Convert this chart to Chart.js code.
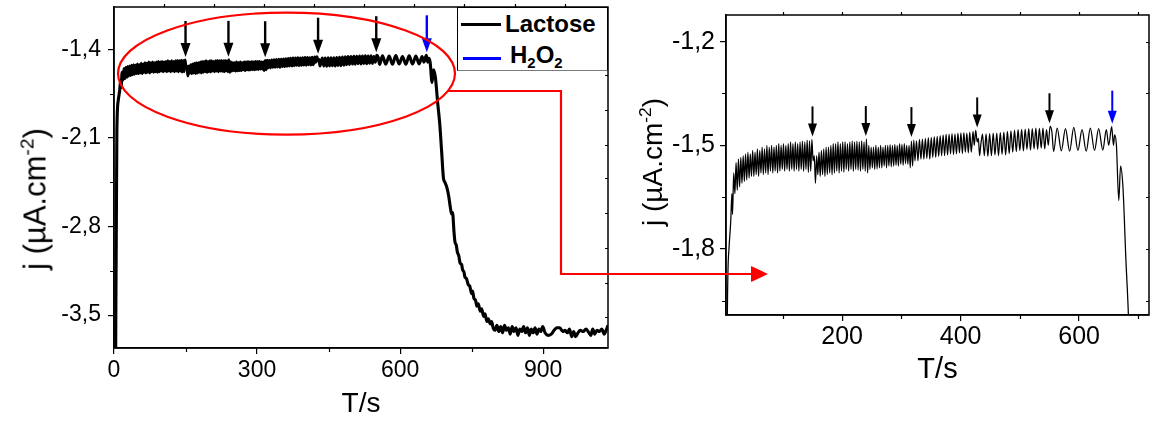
<!DOCTYPE html>
<html><head><meta charset="utf-8">
<script src="https://cdn.jsdelivr.net/npm/chart.js@4.4.1/dist/chart.umd.min.js"></script>
<style>
html,body{margin:0;padding:0;background:#fff;}
body{width:1152px;height:421px;position:relative;overflow:hidden;font-family:"Liberation Sans",Arial,sans-serif;color:#000;}
#leftBox{position:absolute;left:0;top:0;width:620px;height:421px;}
#rightBox{position:absolute;left:620px;top:0;width:532px;height:421px;}
.ytitle{position:absolute;white-space:nowrap;transform:translate(-50%,-50%) rotate(-90deg);line-height:1;}
.ytitle sup{font-size:62%;vertical-align:0;position:relative;top:-0.62em;line-height:0;}
#legend{position:absolute;left:457px;top:7px;width:151px;height:64px;background:#fff;border:1px solid #000;border-bottom-color:#7a7a7a;box-sizing:border-box;}
.lgline{position:absolute;height:3px;}
.lgtext{position:absolute;font-weight:bold;font-size:24px;line-height:24px;white-space:nowrap;}
.lgtext sub{font-size:62%;vertical-align:0;position:relative;top:0.35em;line-height:0;}
#overlay{position:absolute;left:0;top:0;pointer-events:none;}
</style>
</head><body>
<div id="leftBox"><canvas id="cL" width="620" height="421"></canvas></div>
<div id="rightBox"><canvas id="cR" width="532" height="421"></canvas></div>
<div class="ytitle" style="left:35px;top:199px;font-size:31px;">j (µA.cm<sup>-2</sup>)</div>
<div class="ytitle" style="left:653px;top:162px;font-size:28px;">j (µA.cm<sup>-2</sup>)</div>
<div id="legend">
  <div class="lgline" style="left:3px;top:15px;width:40px;background:#000;"></div>
  <div class="lgtext" style="left:47px;top:4px;">Lactose</div>
  <div class="lgline" style="left:5px;top:49px;width:38px;background:#0000ff;"></div>
  <div class="lgtext" style="left:52px;top:35px;">H<sub>2</sub>O<sub>2</sub></div>
</div>
<svg id="overlay" width="1152" height="421" viewBox="0 0 1152 421">
  <ellipse cx="286.5" cy="73.6" rx="168.5" ry="61" fill="none" stroke="#ff0000" stroke-width="2.2"/>
  <polyline points="448,91 561,91 561,274 753,274" fill="none" stroke="#ff0000" stroke-width="2.2"/>
  <polygon points="751,266 768,274 751,282" fill="#ff0000"/>
</svg>
<script>
// ---------- data (T in s, j in µA.cm-2) ----------
const beforeAdditions = [[3,-4.20],[6,-2.05],[9,-1.80],[12,-1.72],[14,-1.64],[15,-1.70],
 [17,-1.58],[19,-1.64],[21,-1.55],[23,-1.63],[25,-1.54],[27,-1.62],[29,-1.535],[31,-1.61],[33,-1.53],[35,-1.605],
 [37,-1.525],[39,-1.60],[41,-1.52],[43,-1.595],[45,-1.525],[47,-1.59],[49,-1.515],[51,-1.59],[53,-1.52],[55,-1.585],
 [57,-1.51],[59,-1.59],[61,-1.515],[63,-1.58],[65,-1.505],[67,-1.585],[69,-1.51],[71,-1.58],[73,-1.50],[75,-1.585],
 [77,-1.505],[79,-1.575],[81,-1.50],[83,-1.58],[85,-1.505],[87,-1.575],[89,-1.50],[91,-1.58],[93,-1.495],[95,-1.575],
 [97,-1.50],[99,-1.57],[101,-1.495],[103,-1.575],[105,-1.50],[107,-1.57],[109,-1.495],[111,-1.575],[113,-1.49],[115,-1.57],
 [117,-1.495],[119,-1.575],[121,-1.49],[123,-1.57],[125,-1.495],[127,-1.575],[129,-1.49],[131,-1.57],[133,-1.488],[135,-1.575],
 [137,-1.49],[139,-1.57],[141,-1.485],[143,-1.578],[145,-1.487],[147,-1.575],[149,-1.483]];
const afterAddition1 = [[151,-1.545],[153,-1.53],[155,-1.61],[157,-1.53],[159,-1.585],[161,-1.52],[163,-1.59],[165,-1.515],
 [167,-1.585],[169,-1.51],[171,-1.59],[173,-1.505],[175,-1.585],[177,-1.505],[179,-1.58],[181,-1.50],[183,-1.585],[185,-1.495],
 [187,-1.58],[189,-1.495],[191,-1.575],[193,-1.49],[195,-1.58],[197,-1.495],[199,-1.575],[201,-1.49],[203,-1.578],[205,-1.49],
 [207,-1.57],[209,-1.495],[211,-1.575],[213,-1.49],[215,-1.57],[217,-1.488],[219,-1.575],[221,-1.49],[223,-1.57],[225,-1.488],
 [227,-1.572],[229,-1.49],[231,-1.575],[233,-1.487],[235,-1.57],[237,-1.49],[239,-1.575]];
const afterAddition2 = [[241,-1.482],[243,-1.58],[245,-1.50],[247,-1.57],[249,-1.505],[251,-1.565],[253,-1.505],[255,-1.57],
 [257,-1.50],[259,-1.568],[261,-1.505],[263,-1.565],[265,-1.50],[267,-1.565],[269,-1.505],[271,-1.56],[273,-1.50],[275,-1.565],
 [277,-1.50],[279,-1.56],[281,-1.498],[283,-1.562],[285,-1.50],[287,-1.56],[289,-1.497],[291,-1.558],[293,-1.50],[295,-1.56],
 [297,-1.495],[299,-1.555],[301,-1.497],[303,-1.558],[305,-1.495],[307,-1.553],[309,-1.50],[311,-1.555],[313,-1.50],[315,-1.565]];
const afterAddition3 = [[317,-1.488],[319,-1.56],[321,-1.485],[323,-1.545],[325.5,-1.487],[328,-1.545],[330.5,-1.483],[333,-1.54],
 [335.5,-1.482],[338,-1.54],[340.5,-1.48],[343,-1.538],[345.5,-1.478],[348,-1.54],[350.5,-1.477],[353,-1.535],[355.5,-1.475],
 [358,-1.535],[360.5,-1.474],[363,-1.532],[365.5,-1.472],[368,-1.53],[370.5,-1.47],[373,-1.53],[375.5,-1.468],[378,-1.528],
 [380.5,-1.468],[383,-1.525],[385.5,-1.466],[388,-1.527],[390.5,-1.467],[393,-1.525],[395.5,-1.465],[398,-1.522],[400.5,-1.464],
 [403,-1.524],[405.5,-1.463],[408,-1.52],[410.5,-1.465],[413,-1.522],[415.5,-1.462],[418,-1.52],[421,-1.46],[423,-1.50]];
const afterAddition4 = [[425.5,-1.457],[428,-1.49],[430,-1.48],[432,-1.53],[434,-1.50],[437,-1.468],[440,-1.53],[443,-1.467],
 [446,-1.532],[449,-1.466],[452,-1.53],[455,-1.465],[458,-1.528],[461,-1.465],[464,-1.53],[467,-1.463],[470,-1.526],[473,-1.462],
 [476,-1.528],[479,-1.46],[482,-1.524],[485,-1.458],[488,-1.52],[491,-1.456],[494,-1.518],[497,-1.455],[500,-1.515],[503,-1.454],
 [506,-1.516],[509,-1.453],[512,-1.512],[515,-1.452],[518,-1.514],[521,-1.452],[524,-1.51],[527,-1.45],[530,-1.512],[533,-1.451],
 [536,-1.508],[539,-1.45],[542,-1.51],[545,-1.455],[548,-1.50]];
const afterAddition5 = [[551,-1.445],[554,-1.46],[557,-1.518],[563,-1.45],[570,-1.516],[577,-1.452],[584,-1.517],[591,-1.448],
 [598,-1.515],[605,-1.455],[612,-1.517],[619,-1.45],[626,-1.515],[633,-1.452],[640,-1.514],[646,-1.455],[650,-1.50],[655,-1.446]];
const afterH2O2 = [[658,-1.50],[660,-1.47],[663,-1.50],[667,-1.66],[670,-1.56],[674,-1.62],[679,-1.83],[683,-1.98],[687,-2.20],
 [691,-2.42],[694,-2.45],[698,-2.49],[702,-2.56],[705,-2.64],[708,-2.70],[710,-2.69],[713,-2.84],[715,-2.92],[718,-2.95],
 [720,-3.00],[723,-3.03],[726,-3.09],[729,-3.10],[731,-3.14],[734,-3.16],[736,-3.20],[739,-3.21],[743,-3.26],[746,-3.27],
 [750,-3.33],[752,-3.31],[755,-3.37],[758,-3.38],[761,-3.43],[764,-3.41],[768,-3.47],[771,-3.45],[775,-3.51],[778,-3.49],
 [782,-3.55],[785,-3.53],[789,-3.57],[792,-3.55],[795,-3.60],[799,-3.62],[803,-3.58],[807,-3.63],[811,-3.59],[815,-3.64],
 [819,-3.58],[823,-3.62],[827,-3.60],[831,-3.65],[835,-3.59],[839,-3.63],[843,-3.60],[847,-3.66],[851,-3.61],[855,-3.63],
 [859,-3.59],[863,-3.64],[867,-3.60],[871,-3.66],[875,-3.61],[879,-3.64],[883,-3.60],[887,-3.65],[891,-3.61],[895,-3.63],
 [899,-3.59],[904,-3.64],[910,-3.66],[917,-3.65],[923,-3.62],[929,-3.60],[935,-3.60],[941,-3.63],[946,-3.62],[951,-3.64],
 [955,-3.61],[960,-3.67],[964,-3.63],[968,-3.67],[973,-3.64],[978,-3.62],[984,-3.63],[990,-3.61],[996,-3.64],[1000,-3.66],
 [1004,-3.61],[1008,-3.65],[1013,-3.62],[1018,-3.63],[1023,-3.61],[1028,-3.65],[1032,-3.62],[1036,-3.58]];

const lactoseAdditionTimes = [150, 240, 317, 428, 550];
const h2o2AdditionTime = 656;

// tick labels / axis ranges
const leftXTicks = [0, 300, 600, 900];
const leftXMinor = [150, 450, 750];
const leftXRange = [0, 1036];
const leftYTicks = [-1.4, -2.1, -2.8, -3.5];
const leftYMinor = [-1.75, -2.45, -3.15];
const leftYRange = [-3.76, -1.064];
const rightXTicks = [200, 400, 600];
const rightXMinor = [100, 300, 500, 700];
const rightXRange = [4, 718];
const rightYTicks = [-1.2, -1.5, -1.8];
const rightYMinor = [-1.35, -1.65, -1.95];
const rightYRange = [-1.991, -1.123];
const leftTopMirror = [105, 210, 315, 420, 525, 630, 735, 840, 945];
const leftRightMirror = [-1.60, -1.878, -2.155, -2.415, -2.692, -2.968, -3.245, -3.513];
const rightTopMirror = [100, 200, 300, 400, 500, 600, 700];
const rightRightMirror = [-1.2, -1.35, -1.5, -1.65, -1.8, -1.95];

// ---------- chart building ----------
const FONT = "'Liberation Sans', Arial, sans-serif";
const allData = [].concat(beforeAdditions, afterAddition1, afterAddition2, afterAddition3, afterAddition4, afterAddition5, afterH2O2);
const toXY = a => a.map(p => ({x: p[0], y: p[1]}));
function peakNear(t) {
  let m = -Infinity;
  allData.forEach(p => { if (Math.abs(p[0] - t) <= 4 && p[1] > m) m = p[1]; });
  return m;
}
const fmtDec = v => v.toFixed(1).replace('.', ',');

function drawArrow(ctx, px, tipY, len, color, shaftW, headW, headH) {
  ctx.strokeStyle = color; ctx.fillStyle = color; ctx.lineWidth = shaftW;
  ctx.beginPath(); ctx.moveTo(px, tipY - len); ctx.lineTo(px, tipY - headH + 1); ctx.stroke();
  ctx.beginPath(); ctx.moveTo(px - headW / 2, tipY - headH); ctx.lineTo(px + headW / 2, tipY - headH);
  ctx.lineTo(px, tipY); ctx.closePath(); ctx.fill();
}

const decorPlugin = {
  id: 'decor',
  afterDatasetsDraw(chart, args, o) {
    const {ctx, chartArea: a, scales: {x, y}} = chart;
    ctx.save();
    ctx.strokeStyle = '#000';
    ctx.lineWidth = 1.5;
    ctx.strokeRect(a.left, a.top, a.right - a.left, a.bottom - a.top);
    ctx.lineWidth = 1.2;
    ctx.beginPath();
    o.xMinor.forEach(v => { const p = Math.round(x.getPixelForValue(v)) + 0.5; ctx.moveTo(p, a.bottom); ctx.lineTo(p, a.bottom + o.minorLen); });
    o.yMinor.forEach(v => { const p = Math.round(y.getPixelForValue(v)) + 0.5; ctx.moveTo(a.left, p); ctx.lineTo(a.left - o.minorLen, p); });
    o.xTop.forEach(v => { const p = Math.round(x.getPixelForValue(v)) + 0.5; if (p < a.right - 2) { ctx.moveTo(p, a.top); ctx.lineTo(p, a.top - o.mirrorLen); } });
    o.yRight.forEach(v => { const p = Math.round(y.getPixelForValue(v)) + 0.5; if (p > a.top + 2 && p < a.bottom - 2) { ctx.moveTo(a.right, p); ctx.lineTo(a.right - o.mirrorLen, p); } });
    ctx.stroke();
    const A = o.arrow;
    lactoseAdditionTimes.forEach(t => {
      const px = x.getPixelForValue(t);
      const tip = y.getPixelForValue(peakNear(t)) - A.gap;
      drawArrow(ctx, px, tip, A.len, '#000', A.shaft, A.headW, A.headH);
    });
    {
      const px = x.getPixelForValue(h2o2AdditionTime);
      const tip = y.getPixelForValue(peakNear(h2o2AdditionTime)) - A.gap;
      drawArrow(ctx, px, tip, A.blueLen, '#0000ff', A.shaft, A.headW, A.headH);
    }
    ctx.restore();
  }
};

function axisX(range, ticks, fontSize, pad, height, titleSize, titlePadBottom) {
  return {
    type: 'linear', min: range[0], max: range[1],
    afterBuildTicks: s => { s.ticks = ticks.map(v => ({value: v})); },
    afterFit: s => { s.height = height; s.paddingLeft = 0; s.paddingRight = 0; s.paddingTop = 0; s.paddingBottom = 0; },
    ticks: {color: '#000', font: {family: FONT, size: fontSize}, padding: pad, maxRotation: 0, autoSkip: false, callback: v => String(v)},
    grid: {display: true, drawOnChartArea: false, drawTicks: true, tickLength: 6, color: '#000', lineWidth: 1.2},
    border: {display: true, color: '#000', width: 1.5},
    title: {display: true, text: 'T/s', color: '#000', font: {family: FONT, size: titleSize}, padding: {top: 0, bottom: titlePadBottom}}
  };
}
function axisY(range, ticks, fontSize, pad, width) {
  return {
    type: 'linear', min: range[0], max: range[1],
    afterBuildTicks: s => { s.ticks = ticks.map(v => ({value: v})); },
    afterFit: s => { s.width = width; s.paddingLeft = 0; s.paddingRight = 0; s.paddingTop = 0; s.paddingBottom = 0; },
    ticks: {color: '#000', font: {family: FONT, size: fontSize}, padding: pad, autoSkip: false, callback: v => fmtDec(v)},
    grid: {display: true, drawOnChartArea: false, drawTicks: true, tickLength: 6, color: '#000', lineWidth: 1.2},
    border: {display: true, color: '#000', width: 1.5}
  };
}

new Chart(document.getElementById('cL'), {
  type: 'line',
  data: {datasets: [{label: 'Lactose', data: toXY(allData), borderColor: '#000', borderWidth: 3.1,
    pointRadius: 0, cubicInterpolationMode: 'monotone', fill: false}]},
  options: {
    responsive: false, animation: false, devicePixelRatio: 1,
    layout: {padding: {left: 0, right: 12, top: 7, bottom: 0}},
    plugins: {legend: {display: false}, tooltip: {enabled: false},
      decor: {xMinor: leftXMinor, yMinor: leftYMinor, xTop: leftTopMirror, yRight: leftRightMirror, minorLen: 4, mirrorLen: 3,
        arrow: {gap: 3, len: 36, blueLen: 37, shaft: 2.4, headW: 10, headH: 14}}},
    scales: {x: axisX(leftXRange, leftXTicks, 23, 3, 73, 28, 0), y: axisY(leftYRange, leftYTicks, 23, 7, 114)}
  },
  plugins: [decorPlugin]
});

new Chart(document.getElementById('cR'), {
  type: 'line',
  data: {datasets: [{label: 'Lactose (zoom)', data: toXY(allData.filter(p => p[0] <= 700)), borderColor: '#000', borderWidth: 1.25,
    pointRadius: 0, cubicInterpolationMode: 'monotone', fill: false}]},
  options: {
    responsive: false, animation: false, devicePixelRatio: 1,
    layout: {padding: {left: 0, right: 3, top: 15, bottom: 0}},
    plugins: {legend: {display: false}, tooltip: {enabled: false},
      decor: {xMinor: rightXMinor, yMinor: rightYMinor, xTop: rightTopMirror, yRight: rightRightMirror, minorLen: 4, mirrorLen: 3,
        arrow: {gap: 3, len: 30, blueLen: 33, shaft: 2, headW: 9, headH: 13}}},
    scales: {x: axisX(rightXRange, rightXTicks, 25, 1, 106, 29, 34), y: axisY(rightYRange, rightYTicks, 25, 5, 106)}
  },
  plugins: [decorPlugin]
});
</script>
</body></html>
